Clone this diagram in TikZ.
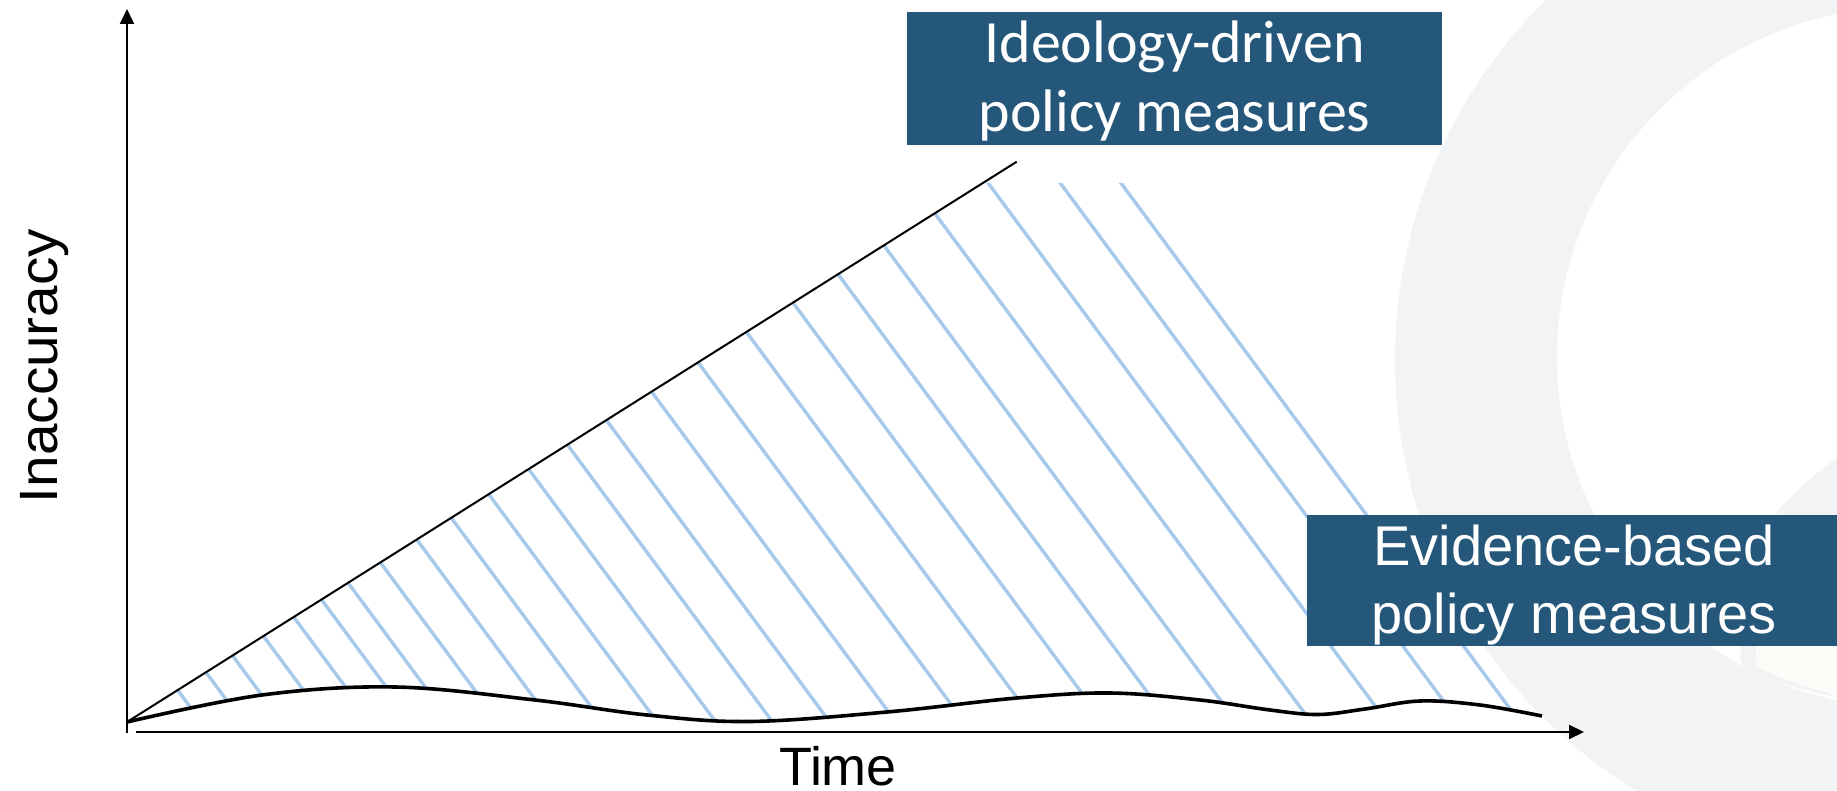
\documentclass[tikz,border=0pt]{standalone}
\usepackage{fontspec}
\usetikzlibrary{arrows.meta}
\newfontfamily\arialf{Liberation Sans}
\newfontfamily\carlitof{Carlito}
\definecolor{boxblue}{RGB}{37,87,122}
\definecolor{hatchblue}{RGB}{166,201,236}
\definecolor{bggrey}{RGB}{242,243,245}
\definecolor{bgbeige}{RGB}{252,251,247}
\tikzset{
  axisline/.style={line width=2pt, -{Triangle[length=15pt,width=14pt]}},
  hatchline/.style={hatchblue, line width=3.4pt},
  ideoline/.style={black, line width=2pt},
  evidline/.style={black, line width=3.6pt, line join=round},
  labelbox/.style={fill=boxblue, draw=none, inner sep=0pt},
  boxtext/.style={text=white, anchor=base, inner sep=0pt},
  axlabel/.style={text=black, anchor=base, inner sep=0pt, font=\arialf\fontsize{54}{64}\selectfont},
}
\def\evidpts{(127,722) (262,695) (395,687) (535,700) (647,715) (750,721.5) (887,712) (1017,698) (1110,693) (1200,700) (1270,710) (1318,714.5) (1365,709) (1420,701) (1480,705) (1542,716)}
\begin{document}
\begin{tikzpicture}[x=1pt, y=-1pt]
\useasboundingbox (0,0) rectangle (1837,791);
\fill[white] (0,0) rectangle (1837,791);
% background decoration
\begin{scope}
  \clip (0,0) rectangle (1837,791);
  \fill[bggrey] (1900,360) circle[radius=505pt];
  \fill[white] (1907,357) circle[radius=350pt];
  \begin{scope}
    \clip (1907,357) circle[radius=350pt];
    \fill[bggrey] plot[smooth] coordinates {(1900,425) (1837,458) (1777,513) (1752,585) (1741,648) (1746,668) (1790,686) (1837,697) (1900,706)} -- (1950,800) -- (1950,425) -- cycle;
    \fill[bgbeige] (1755,640) -- (1757,667) .. controls (1785,680) .. (1837,696) -- (1850,696) -- (1850,640) -- cycle;
  \end{scope}
\end{scope}
% named points
\coordinate (O) at (127,722);
\coordinate (Iend) at (1016.7,161.7);
\coordinate (ybot) at (127,733);
\coordinate (ytop) at (127,9);
\coordinate (xl) at (136,732);
\coordinate (xr) at (1584,732);
% hatching
\begin{scope}
  \clip plot[smooth, tension=0.6] coordinates {\evidpts} -- (1600,716) -- (1600,183) -- (983,183) -- cycle;
  \foreach \c in {-333,-291.5,-252.6,-207.3,-162.9,-122.2,-83.2,-35.9,17.5,68,123,181.5,238.3,295.5,361.7,429.9,500.7,569,635.1,702.3,776.9,852.7,924.8,985.5}
    \draw[hatchline] ({\c+0.74*150},150) -- ({\c+0.74*760},760);
\end{scope}
% evidence curve
\draw[evidline] plot[smooth, tension=0.6] coordinates {\evidpts};
% ideology line
\draw[ideoline] (O) -- (Iend);
% axes
\draw[axisline] (ybot) -- (ytop);
\draw[axisline] (xl) -- (xr);
% labels
\node[axlabel, rotate=90] (ylab) at (57.3,366) {\scalebox{1.05}[1]{Inaccuracy}};
\node[axlabel] (xlab) at (838,785) {Time};
% boxes
\node[labelbox, minimum width=535pt, minimum height=133pt] (ideobox) at (1174.5,78.5) {};
\node[boxtext, font=\carlitof\fontsize{60}{70}\selectfont] (ideo1) at (1174.5,62.3) {Ideology-driven};
\node[boxtext, font=\carlitof\fontsize{60}{70}\selectfont] (ideo2) at (1174.5,131.7) {policy measures};
\node[labelbox, minimum width=530pt, minimum height=131pt] (evbox) at (1572,580.5) {};
\node[boxtext, font=\arialf\fontsize{56}{66}\selectfont] (ev1) at (1574,565.7) {Evidence-based};
\node[boxtext, font=\arialf\fontsize{56}{66}\selectfont] (ev2) at (1574,633.3) {policy measures};
\end{tikzpicture}
\end{document}
